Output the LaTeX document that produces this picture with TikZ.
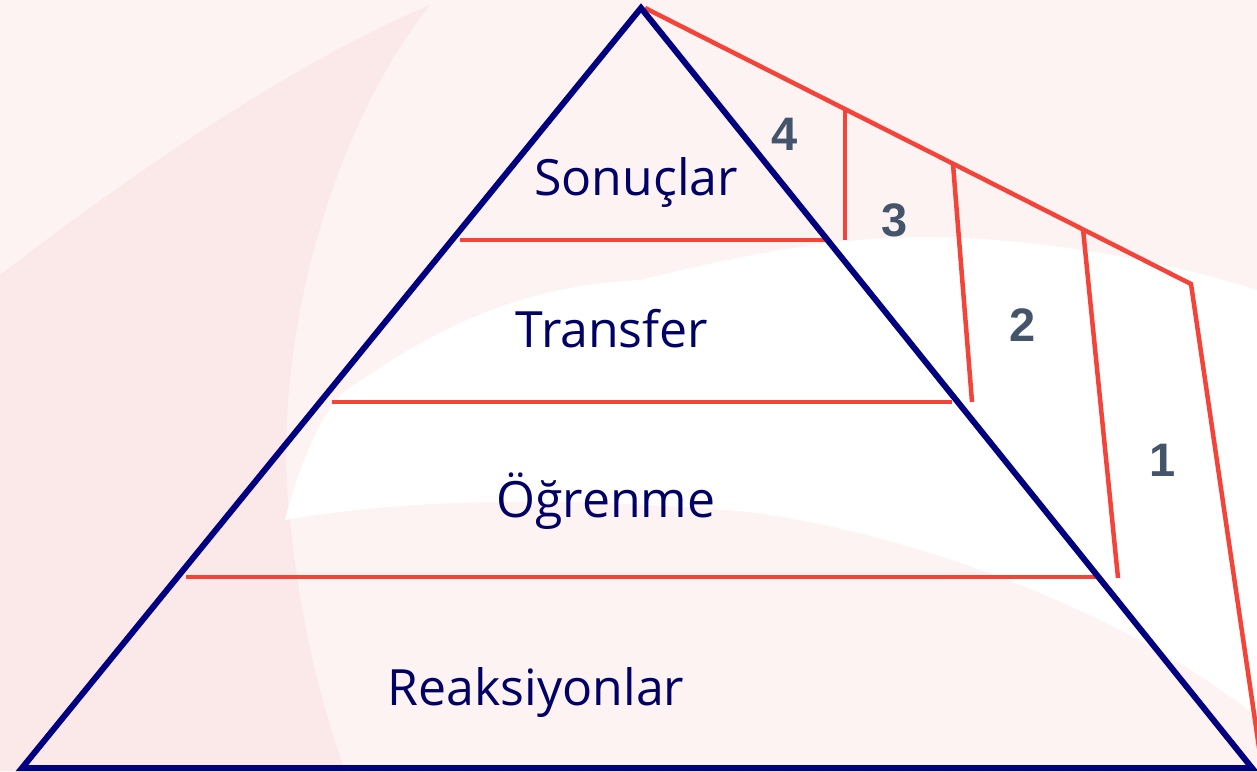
\documentclass[tikz,border=0pt]{standalone}
\usepackage{fontspec}
\setmainfont{Open Sans}
\newfontfamily\numfont{Liberation Sans}
\usepackage{tikz}
\usetikzlibrary{positioning}

\definecolor{bgpink}{HTML}{FDF3F3}
\definecolor{bandpink}{HTML}{FBE8E8}
\definecolor{edgenavy}{HTML}{000080}
\definecolor{labelnavy}{HTML}{000066}
\definecolor{tierred}{HTML}{F4443A}
\definecolor{numgray}{HTML}{44546A}

\begin{document}
\begin{tikzpicture}[
    x=1pt, y=-1pt,
    edge/.style={draw=edgenavy, line width=6pt, line join=miter},
    tier/.style={draw=tierred, line width=4.5pt},
    lvl/.style={font=\fontsize{50}{60}\selectfont, text=labelnavy, anchor=base, inner sep=0pt},
    num/.style={font=\numfont\bfseries\fontsize{47}{56}\selectfont, text=numgray, inner sep=0pt}
]
% background
\fill[bgpink] (0,0) rectangle (1257,771);
\useasboundingbox (0,0) rectangle (1257,771);
\fill[bandpink] (0,275) .. controls (150,160) and (300,60) .. (430,5)
    .. controls (330,130) and (270,350) .. (290,520)
    .. controls (300,620) and (320,700) .. (345,771) -- (0,771) -- cycle;
\fill[white] (285,520) .. controls (300,460) and (320,420) .. (340,395)
    .. controls (430,330) and (520,285) .. (640,280)
    .. controls (760,250) and (850,237) .. (920,237)
    .. controls (1050,237) and (1180,265) .. (1257,290) -- (1257,717)
    .. controls (1150,630) and (950,540) .. (750,512)
    .. controls (550,495) and (400,500) .. (285,520) -- cycle;

% pyramid corners
\coordinate (apex) at (641,8);
\coordinate (bl) at (22,768);
\coordinate (br) at (1252,768);

% tier lines
\draw[tier] (460,240) -- (825,240);
\draw[tier] (332,402) -- (952,402);
\draw[tier] (186,577) -- (1100,577);

% side scale
\coordinate (s0) at (645,8);
\coordinate (s4) at (1191,284);
\draw[tier] (s0) -- (s4) -- (1262,768);
\draw[tier] (845,109) -- (845,240);
\draw[tier] (953,164) -- (972,402);
\draw[tier] (1083,229) -- (1118,578);

\draw[edge] (apex) -- (bl) -- (br) -- cycle;

% level labels
\node[lvl] (sonuc) at (636,195) {Sonuçlar};
\node[lvl] (transfer) at (612,347) {Transfer};
\node[lvl] (ogrenme) at (606,517) {Öğrenme};
\node[lvl] (reaksiyon) at (536,705) {Reaksiyonlar};

% scale numbers
\node[num] (n4) at (785,134) {4};
\node[num] (n3) at (895,220) {3};
\node[num] (n2) at (1023,325) {2};
\node[num] (n1) at (1163,460) {1};
\end{tikzpicture}
\end{document}
